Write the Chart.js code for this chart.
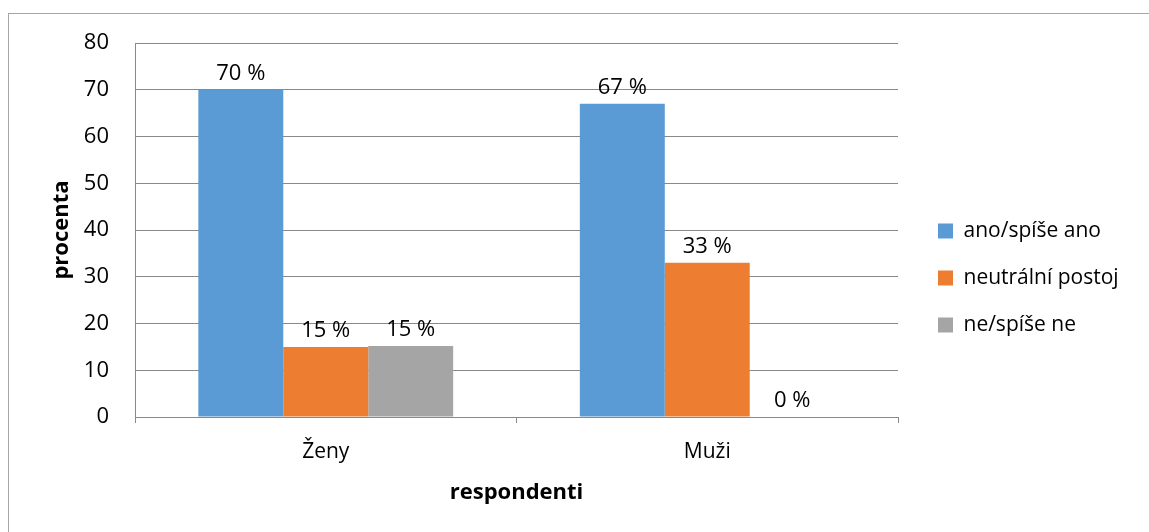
<!DOCTYPE html>
<html>
<head>
<meta charset="utf-8">
<script src="https://cdn.jsdelivr.net/npm/chart.js@4.4.1/dist/chart.umd.min.js"></script>
<style>
  body { margin: 0; background: #fff; overflow: hidden; }
  .ramecek {
    position: absolute; left: 8px; top: 13px;
    width: 1180px; height: 560px;
    border: 1px solid #a6a6a6;
  }
  .graf {
    position: absolute; left: 0; top: 0;
    width: 1141px; height: 519px;
  }
</style>
</head>
<body>
<div class="ramecek">
  <div class="graf"><canvas id="graf"></canvas></div>
</div>
<script>
const kategorie = ['Ženy', 'Muži'];
const anoSpiseAno = [70, 67];
const neutralniPostoj = [15, 33];
const neSpiseNe = [15.2, 0];
const popisky = [['70 %', '67 %'], ['15 %', '33 %'], ['15 %', '0 %']];
const nazvySerii = ['ano/spíše ano', 'neutrální postoj', 'ne/spíše ne'];
const barvy = ['#5B9BD5', '#ED7D31', '#A5A5A5'];

const pismo = "'Open Sans', 'Noto Sans', sans-serif";
const seda = '#898989';

// popisky hodnot nad sloupci
const popiskyPlugin = {
  id: 'popiskyHodnot',
  afterDatasetsDraw(chart) {
    const ctx = chart.ctx;
    ctx.save();
    ctx.font = '22px ' + pismo;
    ctx.fillStyle = '#000';
    ctx.textAlign = 'center';
    ctx.textBaseline = 'bottom';
    chart.data.datasets.forEach((ds, i) => {
      chart.getDatasetMeta(i).data.forEach((bar, j) => {
        ctx.fillText(popisky[i][j], bar.x, bar.y - 5);
      });
    });
    ctx.restore();
  }
};

// sirka a posun legendy
const legendaPlugin = {
  id: 'posunLegendy',
  beforeLayout(chart) {
    const lg = chart.legend;
    if (lg && !lg._posunuto) {
      const fit = lg.fit.bind(lg);
      lg.fit = function () {
        fit();
        this.width = 252;
      };
      const kresli = lg.draw.bind(lg);
      lg.draw = function () {
        chart.ctx.save();
        chart.ctx.translate(14, -10);
        kresli();
        chart.ctx.restore();
      };
      lg._posunuto = true;
    }
  }
};

const ctx = document.getElementById('graf').getContext('2d');
const graf = new Chart(ctx, {
  type: 'bar',
  data: {
    labels: kategorie,
    datasets: [
      { label: nazvySerii[0], data: anoSpiseAno, backgroundColor: barvy[0] },
      { label: nazvySerii[1], data: neutralniPostoj, backgroundColor: barvy[1] },
      { label: nazvySerii[2], data: neSpiseNe, backgroundColor: barvy[2] }
    ]
  },
  options: {
    responsive: true,
    maintainAspectRatio: false,
    animation: false,
    datasets: { bar: { categoryPercentage: 0.668, barPercentage: 1 } },
    layout: { padding: { top: 29, right: 0, bottom: 0, left: 0 } },
    scales: {
      x: {
        grid: { offset: true, drawOnChartArea: false, tickLength: 6, color: seda },
        border: { color: seda },
        ticks: { color: '#000', font: { family: pismo, size: 21 }, padding: 16 },
        title: { display: true, text: 'respondenti', color: '#000',
                 font: { family: pismo, size: 22, weight: 'bold' }, padding: { top: 0, bottom: 27 } },
        afterFit(scale) { scale.height = 116; }
      },
      y: {
        min: 0, max: 80,
        ticks: { stepSize: 10, color: '#000', font: { family: pismo, size: 22 }, padding: 26 },
        grid: { color: seda, drawTicks: false },
        border: { color: seda },
        title: { display: true, text: 'procenta', color: '#000',
                 font: { family: pismo, size: 22, weight: 'bold' }, padding: { top: 40, bottom: 0 } },
        afterFit(scale) {
          scale.width = 126;
          scale.paddingTop = 0;
          scale.paddingBottom = 0;
        }
      }
    },
    plugins: {
      tooltip: { enabled: false },
      legend: {
        position: 'right',
        labels: {
          boxWidth: 15, boxHeight: 15, padding: 26, color: '#000',
          font: { family: pismo, size: 21 }
        }
      }
    }
  },
  plugins: [popiskyPlugin, legendaPlugin]
});
</script>
</body>
</html>
